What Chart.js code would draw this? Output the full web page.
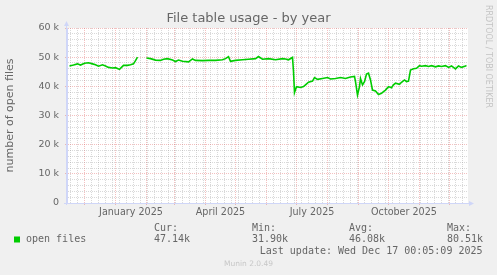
<!DOCTYPE html>
<html>
<head>
<meta charset="utf-8">
<script src="https://cdn.jsdelivr.net/npm/chart.js@4.4.1/dist/chart.umd.min.js"></script>
<style>
  html, body { margin: 0; padding: 0; background: #f0f0f0; }
  #chart { display: block; }
</style>
</head>
<body>
<canvas id="chart" width="497" height="275"></canvas>
<script>
// x values are days counted from 2025-01-01 (negative = late 2024)
const days = [
  -46, -42, -38, -35, -31, -27, -23, -20, -17, -13, -10, -7, -3, 0, 4, 8, 12, 15, 18, 20, 22, 26,
  31, 35, 40, 45, 48, 52, 57, 60, 63, 67, 73, 77, 80, 87, 93, 100, 107, 110, 113, 115, 120,
  127, 133, 140, 143, 147, 153, 160, 167, 170, 173, 177, 178, 179, 181, 185, 188, 190, 193,
  197, 199, 202, 207, 212, 215, 220, 225, 230, 235, 239, 240, 242, 244, 245, 247, 249, 251,
  253, 255, 257, 260, 263, 266, 268, 270, 273, 276, 278, 280, 284, 286, 289, 291, 293, 295,
  298, 301, 304, 306, 310, 313, 316, 320, 323, 326, 330, 333, 336, 340, 343, 346, 350, 351
];
const openFiles = [
  47000, 47300, 47700, 47300, 47900, 48100, 47700, 47400, 46900, 47400, 47000, 46500, 46300, 46400, 45800, 47200, 47200, 47400, 47700, 48800, 50000, null,
  49700, 49500, 49000, 48900, 49300, 49500, 49000, 48500, 49000, 48600, 48400, 49400, 48900, 48800, 48900, 48900, 49100, 49500, 50200, 48600, 48900,
  49100, 49300, 49500, 50200, 49300, 49500, 49100, 49500, 49400, 49100, 49900, 45100, 37900, 39900, 39600, 39900, 40500, 41400,
  41800, 43000, 42400, 42700, 43000, 42500, 42700, 43000, 42700, 43200, 43400, 41600, 37000, 39900, 42700, 40500, 41600, 44200,
  44500, 42200, 38700, 38400, 37200, 37600, 38200, 38700, 39900, 39500, 40500, 41100, 40700, 41400, 42200, 41600, 41800, 45600,
  46000, 46200, 47100, 46900, 47100, 46800, 47100, 46700, 47000, 46800, 47100, 46500, 47000, 46000, 47000, 46500, 47000, 47140
];

const monthStarts = [-31, 0, 31, 59, 90, 120, 151, 181, 212, 243, 273, 304, 334];
const monthLabels = ['January 2025', 'April 2025', 'July 2025', 'October 2025'];
const monthLabelDays = [15.5, 105, 196.5, 288.5];
const yLines = [0, 2000, 4000, 6000, 8000, 10000, 12000, 14000, 16000, 18000, 20000, 22000, 24000, 26000, 28000,
  30000, 32000, 34000, 36000, 38000, 40000, 42000, 44000, 46000, 48000, 50000, 52000, 54000, 56000, 58000, 60000];

const statLabels = ['Cur:', 'Min:', 'Avg:', 'Max:'];
const statValues = ['47.14k', '31.90k', '46.08k', '80.51k'];
const seriesName = 'open files';
const lastUpdate = 'Last update: Wed Dec 17 00:05:09 2025';

const FONT = '"DejaVu Sans", sans-serif';
const MONO = '"DejaVu Sans Mono", monospace';
const TEXT = '#666666';
const AXIS = '#cfd6f8';
const GRID = 'rgba(143,143,143,0.34)';
const MGRID = 'rgba(222,79,79,0.36)';

// weekly minor lines on sundays, skipped where a month line already is
const weekLines = [];
for (let d = -45; d <= 352; d += 7) {
  if (!monthStarts.includes(d)) weekLines.push(d);
}

const backPlugin = {
  id: 'canvasBack',
  beforeDraw(chart) {
    const { ctx, chartArea: a } = chart;
    ctx.save();
    ctx.fillStyle = '#ffffff';
    ctx.fillRect(a.left, a.top, a.right - a.left, a.bottom - a.top);
    ctx.restore();
  }
};

const decorPlugin = {
  id: 'muninDecor',
  afterDraw(chart) {
    const { ctx, chartArea: a } = chart;
    ctx.save();

    // axes with arrows
    ctx.strokeStyle = AXIS;
    ctx.fillStyle = AXIS;
    ctx.lineWidth = 1;
    ctx.beginPath();
    ctx.moveTo(a.left - 0.5, a.bottom + 2);
    ctx.lineTo(a.left - 0.5, a.top - 3);
    ctx.moveTo(a.left - 3, a.bottom + 0.5);
    ctx.lineTo(a.right + 2, a.bottom + 0.5);
    ctx.stroke();
    ctx.beginPath();
    ctx.moveTo(a.left - 0.5, a.top - 7);
    ctx.lineTo(a.left - 3, a.top - 2);
    ctx.lineTo(a.left + 2, a.top - 2);
    ctx.closePath();
    ctx.fill();
    ctx.beginPath();
    ctx.moveTo(a.right + 6, a.bottom + 0.5);
    ctx.lineTo(a.right + 1, a.bottom - 2);
    ctx.lineTo(a.right + 1, a.bottom + 3);
    ctx.closePath();
    ctx.fill();

    // watermark on the right
    ctx.fillStyle = 'rgba(102,102,102,0.32)';
    ctx.font = '8px ' + FONT;
    ctx.textBaseline = 'middle';
    ctx.textAlign = 'left';
    ctx.translate(488, 5);
    ctx.rotate(Math.PI / 2);
    ctx.fillText('RRDTOOL / TOBI OETIKER', 0, 0);
    ctx.setTransform(1, 0, 0, 1, 0, 0);

    // legend block
    const color = chart.data.datasets[0].borderColor;
    ctx.fillStyle = color;
    ctx.fillRect(14, 236.5, 6, 6);
    ctx.fillStyle = TEXT;
    ctx.font = '10px ' + MONO;
    ctx.textBaseline = 'middle';
    ctx.fillText(seriesName, 26, 239.5);
    const statX = [154, 252, 349, 447];
    statLabels.forEach((s, i) => {
      ctx.fillText(s, statX[i], 228);
      ctx.fillText(statValues[i], statX[i], 239.5);
    });
    ctx.textAlign = 'right';
    ctx.fillText(lastUpdate, 482.5, 251);

    ctx.textAlign = 'center';
    ctx.fillStyle = 'rgba(102,102,102,0.3)';
    ctx.font = '7.5px ' + FONT;
    ctx.fillText('Munin 2.0.49', 248.5, 264);
    ctx.restore();
  }
};

new Chart(document.getElementById('chart'), {
  type: 'line',
  data: {
    datasets: [{
      label: seriesName,
      data: days.map((d, i) => ({ x: d, y: openFiles[i] })),
      borderColor: '#00cc00',
      borderWidth: 1.6,
      pointRadius: 0,
      tension: 0,
      spanGaps: false,
      fill: false
    }]
  },
  options: {
    responsive: false,
    animation: false,
    devicePixelRatio: 1,
    layout: { padding: { left: 0, right: 0, top: 0, bottom: 52 } },
    scales: {
      x: {
        type: 'linear',
        min: -48.5,
        max: 352.5,
        afterBuildTicks: (scale) => {
          const t = [];
          weekLines.forEach(v => t.push({ value: v, kind: 'minor' }));
          monthStarts.forEach(v => t.push({ value: v, kind: 'major' }));
          monthLabelDays.forEach((v, i) => t.push({ value: v, kind: 'label', text: monthLabels[i] }));
          t.sort((p, q) => p.value - q.value);
          scale.ticks = t;
        },
        afterFit: (scale) => { scale.height = 20; },
        ticks: {
          autoSkip: false,
          maxRotation: 0,
          padding: 1.5,
          color: TEXT,
          font: { family: FONT, size: 9.6 },
          callback: (v, i, ticks) => ticks[i].kind === 'label' ? ticks[i].text : ''
        },
        grid: {
          color: (c) => c.tick.kind === 'major' ? MGRID : (c.tick.kind === 'minor' ? GRID : 'rgba(0,0,0,0)'),
          tickColor: (c) => c.tick.kind === 'major' ? MGRID : 'rgba(0,0,0,0)',
          tickLength: 2,
          lineWidth: 1
        },
        border: { color: AXIS, dash: [1, 1] }
      },
      y: {
        min: 0,
        max: 60000,
        afterFit: (scale) => { scale.width = 67; },
        afterBuildTicks: (scale) => {
          scale.ticks = yLines.map(v => ({ value: v }));
        },
        ticks: {
          autoSkip: false,
          padding: 6,
          color: TEXT,
          font: { family: FONT, size: 9.5 },
          callback: (v) => v % 10000 !== 0 ? '' : (v === 0 ? '0' : (v / 1000) + ' k')
        },
        grid: {
          color: (c) => c.tick.value % 10000 === 0 ? MGRID : GRID,
          tickColor: (c) => c.tick.value % 10000 === 0 ? MGRID : 'rgba(0,0,0,0)',
          tickLength: 2,
          lineWidth: 1
        },
        border: { color: AXIS, dash: [1, 1] },
        title: {
          display: true,
          text: 'number of open files',
          color: TEXT,
          font: { family: FONT, size: 11 },
          padding: { top: 4, bottom: 0 }
        }
      },
      yR: {
        position: 'right',
        display: true,
        min: 0,
        max: 1,
        afterFit: (scale) => { scale.width = 29; },
        ticks: { display: false },
        grid: { display: false },
        border: { display: false }
      }
    },
    plugins: {
      legend: { display: false },
      tooltip: { enabled: false },
      title: {
        display: true,
        text: 'File table usage - by year',
        color: TEXT,
        font: { family: FONT, size: 13, weight: 'normal' },
        padding: { top: 11, bottom: 1.4 }
      }
    }
  },
  plugins: [backPlugin, decorPlugin]
});
</script>
</body>
</html>
